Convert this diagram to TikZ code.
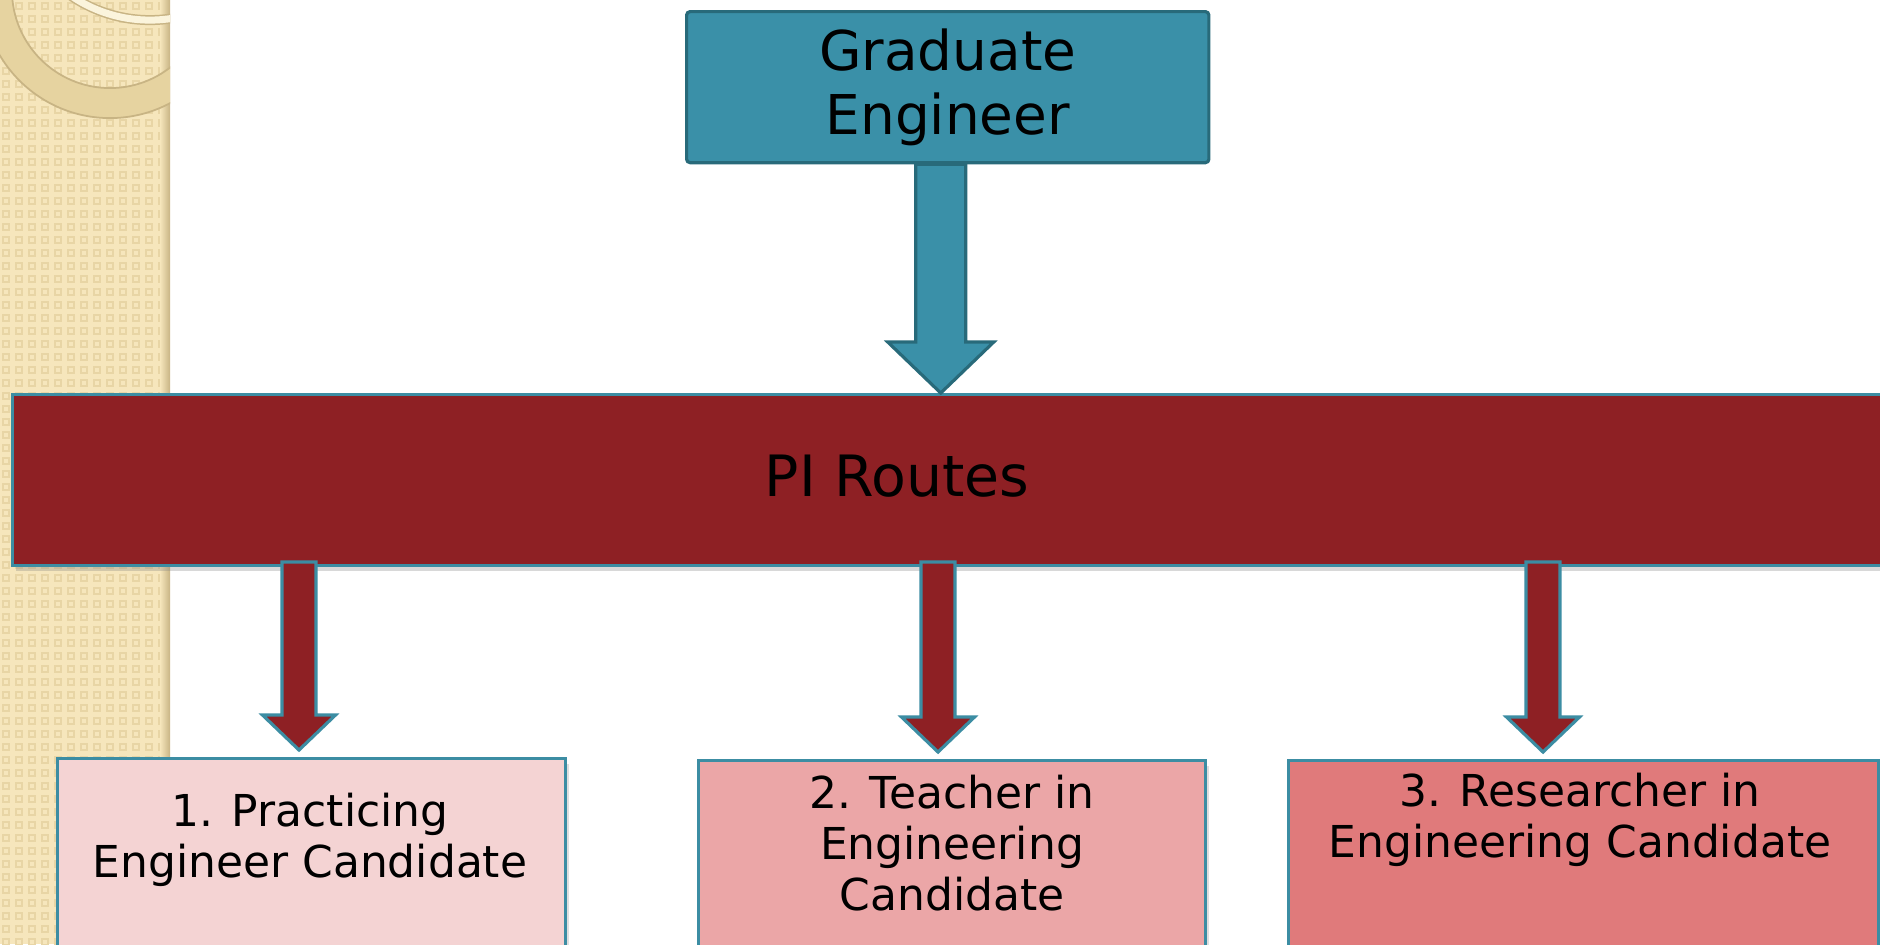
\documentclass[tikz,border=0pt]{standalone}
\usepackage{fontspec}
\setmainfont{DejaVu Sans}
\usetikzlibrary{calc,shadows}

\definecolor{strip}{HTML}{F6E6BC}
\definecolor{stripdot}{HTML}{E8D5A5}
\definecolor{ring}{HTML}{E6D3A0}
\definecolor{ringedge}{HTML}{C8B484}
\definecolor{cream}{HTML}{FBF4DC}
\definecolor{tealfill}{HTML}{3A90A8}
\definecolor{tealedge}{HTML}{286A7A}
\definecolor{routeedge}{HTML}{3C8DA3}
\definecolor{maroon}{HTML}{8E2024}
\definecolor{pinkA}{HTML}{F4D3D3}
\definecolor{pinkB}{HTML}{EBA6A7}
\definecolor{pinkC}{HTML}{E07A7B}

\tikzset{
  gradbox/.style={draw=tealedge, fill=tealfill, line width=0.9pt, rounded corners=1pt,
    anchor=north west, align=center, font=\fontsize{15.6}{18.2}\selectfont},
  routebar/.style={draw=routeedge, fill=maroon, line width=0.9pt, anchor=north west,
    drop shadow={shadow xshift=0.03cm, shadow yshift=-0.05cm, opacity=0.3}},
  candbox/.style={draw=routeedge, line width=0.9pt, anchor=north west, minimum height=2.6cm,
    drop shadow={shadow xshift=0.03cm, shadow yshift=-0.05cm, opacity=0.25}},
  candtext/.style={align=center, font=\fontsize{12.5}{14.5}\selectfont},
  gradarrow/.style={draw=tealedge, fill=tealfill, line width=0.9pt, line join=miter},
  routearrow/.style={draw=routeedge, fill=maroon, line width=0.9pt, line join=miter},
}

% fat arrow pointing down: style, from, to, shaft half width, head half width, head length
\newcommand\fatarrow[6]{%
  \draw[#1] let \p1=(#2), \p2=(#3) in
    (\x1-#4,\y1) -- (\x1-#4,\y2+#6) -- (\x1-#5,\y2+#6) -- (\x1,\y2)
    -- (\x1+#5,\y2+#6) -- (\x1+#4,\y2+#6) -- (\x1+#4,\y1) -- cycle;}

\begin{document}
\begin{tikzpicture}[x=0.01cm, y=-0.01cm]
    \useasboundingbox (0,0) rectangle (1880,944);
    \clip (0,0) rectangle (1880,944);
    \fill[white] (0,0) rectangle (1880,944);

    % side strip
    \begin{scope}
        \clip (0,0) rectangle (170,944);
        \fill[strip] (0,0) rectangle (170,944);
        \foreach \i in {0,...,12}
            \foreach \j in {0,...,72}
                \draw[stripdot, line width=0.5pt] (\i*13+3,\j*13+3) rectangle +(6,6);
        \shade[left color=strip, right color=ringedge] (160,0) rectangle (170,944);
        \fill[ring, even odd rule] (110,-10) circle (1.28cm) (110,-10) circle (0.98cm);
        \draw[ringedge, line width=0.5pt] (110,-10) circle (1.28cm) (110,-10) circle (0.98cm);
        \draw[ringedge, line width=0.1cm] (150,-120) circle (1.4cm);
        \draw[cream, line width=0.07cm] (150,-120) circle (1.4cm);
    \end{scope}

    \node[gradbox, minimum width=5.22cm, minimum height=1.51cm] (grad) at (685,10) {Graduate\\Engineer};

    \node[routebar, minimum width=18.9cm, minimum height=1.71cm] (routes) at (11,393) {};
    \node[font=\fontsize{16.2}{19}\selectfont] (routeslabel) at (897,476) {PI Routes};

    \node[candbox, fill=pinkA, minimum width=5.08cm] (cand1) at (56,757) {};
    \node[candbox, fill=pinkB, minimum width=5.07cm] (cand2) at (697,759) {};
    \node[candbox, fill=pinkC, minimum width=5.9cm] (cand3) at (1287,759) {};
    \node[candtext] (cand1text) at (310,840) {1. Practicing\\Engineer Candidate};
    \node[candtext] (cand2text) at (952,843) {2. Teacher in\\Engineering\\Candidate};
    \node[candtext] (cand3text) at (1580,820) {3. Researcher in\\Engineering Candidate};

    % arrows
    \path (grad.south) ++(-7,0) coordinate (gtop);
    \fatarrow{gradarrow}{gtop}{gtop |- routes.north}{0.25cm}{0.53cm}{0.51cm}
    \foreach \k/\xx in {1/299,2/938,3/1543} {
        \coordinate (r\k) at (\xx,562);
        \fatarrow{routearrow}{r\k}{$(r\k |- cand\k.north)+(0,-7)$}{0.17cm}{0.365cm}{0.35cm}
    }
\end{tikzpicture}
\end{document}
